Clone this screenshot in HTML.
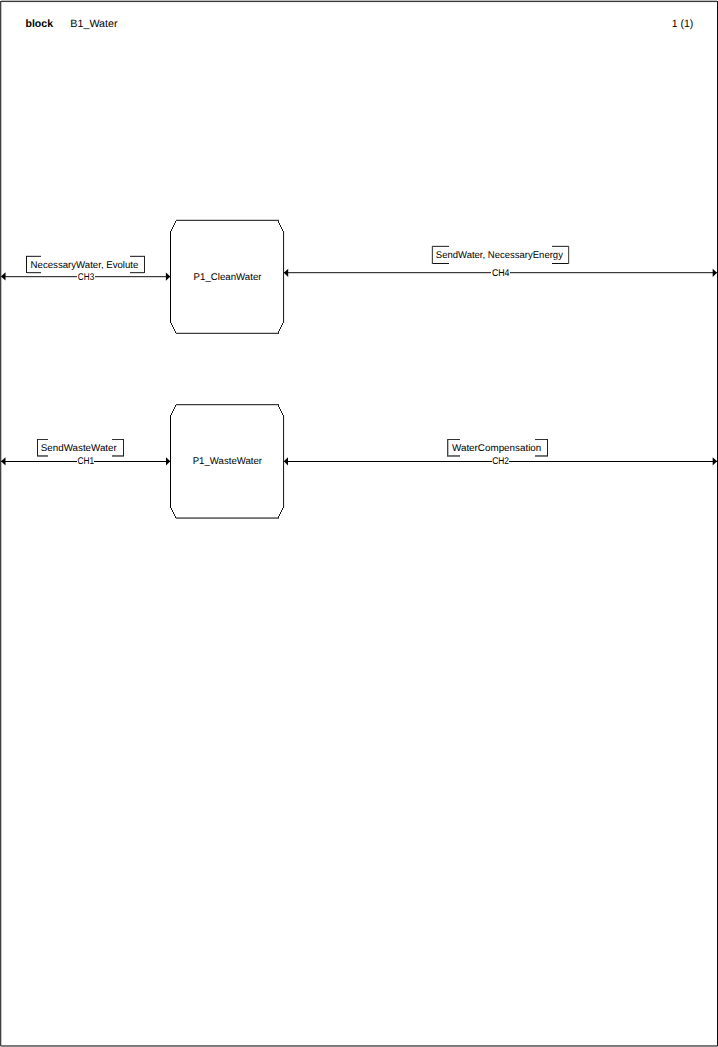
<!DOCTYPE html>
<html>
<head>
<meta charset="utf-8">
<style>
html,body{margin:0;padding:0;background:#fff;width:718px;height:1047px;overflow:hidden;}
svg{position:absolute;left:0;top:0;display:block;}
text{font-family:"Liberation Sans",sans-serif;fill:#000;text-rendering:geometricPrecision;}
.t{font-size:9.8px;}
.h{font-size:10.6px;}
</style>
</head>
<body>
<svg width="718" height="1047" viewBox="0 0 718 1047" shape-rendering="crispEdges">
<!-- frame -->
<rect x="1" y="0" width="716" height="1" fill="#bdbdbd"/>
<rect x="0" y="1" width="717" height="1" fill="#3a3a3a"/>
<rect x="2" y="2" width="714" height="1" fill="#f2f2f2"/>
<rect x="0" y="2" width="1" height="1044" fill="#404040"/>
<rect x="1" y="2" width="1" height="1043" fill="#c4c4c4"/>
<rect x="717" y="1" width="1" height="1045" fill="#0a0a0a"/>
<rect x="1" y="1045" width="716" height="1" fill="#787878"/>
<rect x="1" y="1046" width="716" height="1" fill="#828282"/>
<rect x="0" y="1046" width="1" height="1" fill="#cccccc"/>
<rect x="717" y="1046" width="1" height="1" fill="#bbbbbb"/>

<!-- header -->
<text x="25.5" y="26.9" class="h" font-weight="bold" textLength="27.5" lengthAdjust="spacingAndGlyphs">block</text>
<text x="70.3" y="26.9" class="h" textLength="47.3" lengthAdjust="spacingAndGlyphs">B1_Water</text>
<text x="671.8" y="26.8" class="h" textLength="21.5" lengthAdjust="spacingAndGlyphs">1 (1)</text>

<!-- process 1 : x 170..283, y 220..333 -->
<g>
<rect x="176" y="219" width="103" height="1" fill="#d0d0d0"/>
<rect x="176" y="220" width="103" height="1" fill="#3c3c3c"/>
<rect x="176" y="332" width="103" height="1" fill="#d0d0d0"/>
<rect x="176" y="333" width="103" height="1" fill="#3c3c3c"/>
<rect x="170" y="231" width="1" height="92" fill="#000"/>
<rect x="283" y="231" width="1" height="92" fill="#222"/>
<rect x="284" y="231" width="1" height="92" fill="#eeeeee"/>
</g>
<!-- process 2 : x 170..283, y 404..518 -->
<g>
<rect x="176" y="404" width="103" height="1" fill="#3c3c3c"/>
<rect x="176" y="405" width="103" height="1" fill="#d0d0d0"/>
<rect x="176" y="517" width="103" height="1" fill="#8a8a8a"/>
<rect x="176" y="518" width="103" height="1" fill="#707070"/>
<rect x="170" y="415" width="1" height="93" fill="#000"/>
<rect x="283" y="415" width="1" height="93" fill="#222"/>
<rect x="284" y="415" width="1" height="93" fill="#eeeeee"/>
</g>
<!-- chamfers -->
<g fill="#1a1a1a"><rect x="175" y="221" width="1" height="2"/><rect x="278" y="221" width="1" height="2"/><rect x="171" y="323" width="1" height="2"/><rect x="282" y="323" width="1" height="2"/><rect x="174" y="223" width="1" height="2"/><rect x="279" y="223" width="1" height="2"/><rect x="172" y="325" width="1" height="2"/><rect x="281" y="325" width="1" height="2"/><rect x="173" y="225" width="1" height="2"/><rect x="280" y="225" width="1" height="2"/><rect x="173" y="327" width="1" height="2"/><rect x="280" y="327" width="1" height="2"/><rect x="172" y="227" width="1" height="2"/><rect x="281" y="227" width="1" height="2"/><rect x="174" y="329" width="1" height="2"/><rect x="279" y="329" width="1" height="2"/><rect x="171" y="229" width="1" height="2"/><rect x="282" y="229" width="1" height="2"/><rect x="175" y="331" width="1" height="2"/><rect x="278" y="331" width="1" height="2"/><rect x="175" y="405" width="1" height="2"/><rect x="278" y="405" width="1" height="2"/><rect x="171" y="508" width="1" height="2"/><rect x="282" y="508" width="1" height="2"/><rect x="174" y="407" width="1" height="2"/><rect x="279" y="407" width="1" height="2"/><rect x="172" y="510" width="1" height="2"/><rect x="281" y="510" width="1" height="2"/><rect x="173" y="409" width="1" height="2"/><rect x="280" y="409" width="1" height="2"/><rect x="173" y="512" width="1" height="2"/><rect x="280" y="512" width="1" height="2"/><rect x="172" y="411" width="1" height="2"/><rect x="281" y="411" width="1" height="2"/><rect x="174" y="514" width="1" height="2"/><rect x="279" y="514" width="1" height="2"/><rect x="171" y="413" width="1" height="2"/><rect x="282" y="413" width="1" height="2"/><rect x="175" y="516" width="1" height="2"/><rect x="278" y="516" width="1" height="2"/></g>

<!-- channels -->
<rect x="1" y="276" width="169" height="1" fill="#3c3c3c"/>
<rect x="2" y="277" width="168" height="1" fill="#d4d4d4"/>
<rect x="284" y="272" width="433" height="1" fill="#3c3c3c"/>
<rect x="285" y="273" width="432" height="1" fill="#d4d4d4"/>
<rect x="1" y="461" width="169" height="1" fill="#000"/>
<rect x="284" y="461" width="433" height="1" fill="#000"/>

<!-- signal list brackets -->
<g>
<rect x="26" y="255" width="15" height="1" fill="#d4d4d4"/>
<rect x="26" y="256" width="15" height="1" fill="#3c3c3c"/>
<rect x="26" y="272" width="15" height="1" fill="#3c3c3c"/>
<rect x="27" y="273" width="14" height="1" fill="#d8d8d8"/>
<rect x="26" y="256" width="1" height="17" fill="#111"/>
<rect x="130" y="255" width="15" height="1" fill="#d4d4d4"/>
<rect x="130" y="256" width="15" height="1" fill="#3c3c3c"/>
<rect x="130" y="272" width="15" height="1" fill="#3c3c3c"/>
<rect x="130" y="273" width="14" height="1" fill="#d8d8d8"/>
<rect x="144" y="256" width="1" height="17" fill="#222"/>
<rect x="432" y="245" width="17" height="1" fill="#dcdcdc"/>
<rect x="432" y="246" width="17" height="1" fill="#3c3c3c"/>
<rect x="432" y="263" width="17" height="1" fill="#111"/>
<rect x="432" y="246" width="1" height="18" fill="#4a4a4a"/>
<rect x="431" y="246" width="1" height="18" fill="#dddddd"/>
<rect x="552" y="245" width="17" height="1" fill="#dcdcdc"/>
<rect x="552" y="246" width="17" height="1" fill="#3c3c3c"/>
<rect x="552" y="263" width="17" height="1" fill="#111"/>
<rect x="568" y="246" width="1" height="18" fill="#555"/>
<rect x="569" y="246" width="1" height="18" fill="#dddddd"/>
<rect x="37" y="439" width="11" height="1" fill="#333"/>
<rect x="37" y="455" width="11" height="1" fill="#707070"/>
<rect x="37" y="456" width="11" height="1" fill="#7a7a7a"/>
<rect x="37" y="439" width="1" height="17" fill="#222"/>
<rect x="112" y="439" width="12" height="1" fill="#333"/>
<rect x="112" y="455" width="12" height="1" fill="#707070"/>
<rect x="112" y="456" width="12" height="1" fill="#7a7a7a"/>
<rect x="123" y="439" width="1" height="17" fill="#222"/>
<rect x="447" y="439" width="13" height="1" fill="#333"/>
<rect x="447" y="455" width="13" height="1" fill="#707070"/>
<rect x="447" y="456" width="13" height="1" fill="#7a7a7a"/>
<rect x="447" y="439" width="1" height="17" fill="#444"/>
<rect x="448" y="440" width="1" height="15" fill="#bbbbbb"/>
<rect x="535" y="439" width="13" height="1" fill="#333"/>
<rect x="535" y="455" width="13" height="1" fill="#707070"/>
<rect x="535" y="456" width="13" height="1" fill="#7a7a7a"/>
<rect x="547" y="439" width="1" height="17" fill="#222"/>
</g>

<!-- arrowheads -->
<g fill="#000" shape-rendering="auto">
<polygon points="1,276.4 5.5,272.2 5.5,280.6"/>
<polygon points="170.3,276.6 165.9,272.5 165.9,280.8"/>
<polygon points="283.8,272.8 288.2,268.7 288.2,276.9"/>
<polygon points="717,272.8 712.7,268.7 712.7,276.9"/>
<polygon points="1,461.3 5.5,457.2 5.5,465.4"/>
<polygon points="170.3,461.3 166,457.2 166,465.4"/>
<polygon points="283.8,461.3 288,457.2 288,465.4"/>
<polygon points="717,461.3 712.7,457.2 712.7,465.4"/>
</g>

<!-- channel label backgrounds -->
<g fill="#fff">
<rect x="77" y="272" width="18" height="9"/>
<rect x="491" y="268" width="19" height="9"/>
<rect x="77" y="457" width="17" height="9"/>
<rect x="492" y="457" width="17" height="9"/>
</g>

<g shape-rendering="auto">
<!-- texts -->
<text x="30.6" y="268" class="t" textLength="107.8" lengthAdjust="spacingAndGlyphs">NecessaryWater, Evolute</text>
<text x="435.8" y="258.1" class="t" textLength="127.1" lengthAdjust="spacingAndGlyphs">SendWater, NecessaryEnergy</text>
<text x="40.8" y="451" class="t" textLength="76" lengthAdjust="spacingAndGlyphs">SendWasteWater</text>
<text x="452" y="451" class="t" textLength="89.3" lengthAdjust="spacingAndGlyphs">WaterCompensation</text>

<text x="77.8" y="280" class="t" textLength="16.4" lengthAdjust="spacingAndGlyphs">CH3</text>
<text x="491.9" y="276" class="t" textLength="17.6" lengthAdjust="spacingAndGlyphs">CH4</text>
<text x="77.6" y="464" class="t" textLength="16.6" lengthAdjust="spacingAndGlyphs">CH1</text>
<text x="492.2" y="464" class="t" textLength="16.8" lengthAdjust="spacingAndGlyphs">CH2</text>

<text x="193.6" y="280.1" class="t" textLength="67.9" lengthAdjust="spacingAndGlyphs">P1_CleanWater</text>
<text x="192.7" y="464" class="t" textLength="69.4" lengthAdjust="spacingAndGlyphs">P1_WasteWater</text>
</g>
</svg>
</body>
</html>
